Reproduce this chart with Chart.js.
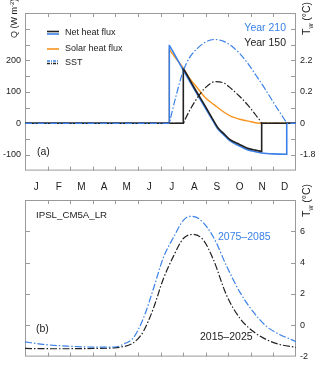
<!DOCTYPE html>
<html><head><meta charset="utf-8">
<script src="https://cdn.jsdelivr.net/npm/chart.js@4/dist/chart.umd.min.js"></script>
<style>
html,body{margin:0;padding:0;background:#fff;}
#wrap{position:relative;width:320px;height:366px;overflow:hidden;}
canvas{position:absolute;left:0;}
#ca{top:0;} #cb{top:180px;}
</style></head><body>
<div id="wrap"><canvas id="ca" width="320" height="180"></canvas><canvas id="cb" width="320" height="186"></canvas></div>
<script>
// ---------- data ----------
const months = ['J','F','M','A','M','J','J','A','S','O','N','D'];

// Panel (a): x = months since 1 Jan, values in W m-2 (left axis)
const netY210X = [0, 6.39, 6.39, 6.45, 7.0, 7.5, 8.0, 8.33, 8.56, 8.78, 9.08, 9.5, 9.82, 10.2, 10.48, 11.0, 11.59, 11.59, 12];
const netY210Q = [0, 0, 247, 240, 170, 108, 47, 7, -20, -35, -56, -72, -83, -90, -94, -97, -98, 0, 0];
const netY150X = [0, 7.01, 7.01, 7.07, 7.5, 8.0, 8.33, 8.56, 8.78, 9.08, 9.5, 9.82, 10.2, 10.48, 10.48, 12];
const netY150Q = [0, 0, 174, 167, 112, 52, 11, -16, -31, -52, -67, -78, -85, -89, 0, 0];
const solarX = [0, 6.39, 6.39, 6.45, 6.94, 7.3, 7.67, 8.0, 8.41, 8.8, 9.15, 9.5, 9.89, 10.2, 10.5, 12];
const solarQ = [0, 0, 234, 228, 182, 142, 109, 80, 57, 36, 21, 13, 7, 2, 0, 0];
const sstY210X = [0, 6.39, 6.45, 6.7, 7.0, 7.3, 7.67, 8.0, 8.41, 8.8, 9.15, 9.5, 9.89, 10.25, 10.63, 11.1, 11.55, 11.59, 12];
const sstY210Q = [0, 0, 18, 90, 165, 210, 240, 258, 266, 260, 245, 222, 188, 150, 109, 55, 5, 0, 0];
const sstY150X = [0, 7.01, 7.06, 7.3, 7.67, 7.97, 8.41, 8.8, 9.15, 9.5, 9.89, 10.2, 10.44, 10.48, 12];
const sstY150Q = [0, 0, 8, 42, 85, 112, 132, 128, 109, 86, 56, 28, 5, 0, 0];

const qTickValues = [-100, 0, 100, 200];
const qTickLabels = ['-100', '0', '100', '200'];
const twTickLabelsA = ['-1.8', '0', '0.2', '2.2'];

// Panel (b): Tw (°C)
const futureX = [0, 0.8, 1.85, 3.32, 4.06, 4.4, 4.8, 5.24, 5.68, 6.12, 6.57, 7.01, 7.31, 7.75, 8.34, 8.93, 9.52, 10.11, 10.70, 11.29, 11.96, 12];
const futureT = [-1.06, -1.22, -1.33, -1.4, -1.37, -1.18, -0.8, 0.44, 2.3, 4.3, 5.6, 6.7, 6.96, 6.75, 5.64, 3.77, 2.1, 0.85, -0.08, -0.6, -1.02, -1.05];
const presentX = [0, 1.5, 3.0, 3.9, 4.21, 4.80, 5.24, 5.68, 6.12, 6.57, 7.01, 7.45, 7.90, 8.34, 8.93, 9.52, 10.11, 10.70, 11.29, 11.96, 12];
const presentT = [-1.48, -1.5, -1.48, -1.45, -1.4, -1.12, -0.4, 1.06, 2.94, 4.4, 5.54, 5.8, 5.44, 4.2, 1.9, 0.44, -0.4, -0.92, -1.23, -1.4, -1.41];
const twTickValuesB = [-2, 0, 2, 4, 6];
const twTickLabelsB = ['-2', '0', '2', '4', '6'];

// ---------- styles ----------
const BLUE = '#3a80e8', ORANGE = '#f7941d', BLACK = '#222222', FRAME = '#9a9a9a', TXT = '#222';
const DASHDOT = [7, 2, 1.5, 2];
const FONT = '"Liberation Sans", Arial, sans-serif';

const pts = (xs, ys) => xs.map((x, i) => ({x, y: ys[i]}));
const lineDs = (label, xs, ys, color, width, dash, order) => ({
  label, data: pts(xs, ys), borderColor: color, borderWidth: width, borderDash: dash || [],
  showLine: true, pointRadius: 0, fill: false, cubicInterpolationMode: 'monotone', order
});

const frameTicks = {
  id: 'frameTicks',
  beforeDatasetsDraw(chart, args, opts) {
    const {ctx, chartArea: a, scales} = chart;
    ctx.save();
    ctx.strokeStyle = FRAME; ctx.lineWidth = 1;
    ctx.strokeRect(a.left + 0.5, a.top + 0.5, a.right - a.left - 1, a.bottom - a.top - 1);
    ctx.beginPath();
    const x = scales.x;
    for (let m = 1; m < 12; m++) {
      const px = Math.round(x.getPixelForValue(m)) + 0.5;
      ctx.moveTo(px, a.top); ctx.lineTo(px, a.top + 4);
      ctx.moveTo(px, a.bottom); ctx.lineTo(px, a.bottom - 4);
    }
    const y = scales[opts.yScale];
    y.ticks.forEach(t => {
      if (t.value <= y.min || t.value >= y.max) return;
      const py = Math.round(y.getPixelForValue(t.value)) + 0.5;
      ctx.moveTo(a.left, py); ctx.lineTo(a.left + 5, py);
      ctx.moveTo(a.right, py); ctx.lineTo(a.right - 5, py);
    });
    ctx.stroke();
    ctx.restore();
  }
};

function drawTw(ctx, x, yBottom, size) {
  ctx.save();
  ctx.translate(x, yBottom);
  ctx.rotate(-Math.PI / 2);
  ctx.fillStyle = TXT; ctx.textBaseline = 'alphabetic'; ctx.textAlign = 'left';
  ctx.font = size + 'px ' + FONT;
  ctx.fillText('T', 0, 0);
  let w = ctx.measureText('T').width;
  ctx.font = (size * 0.65) + 'px ' + FONT;
  ctx.fillText('w', w, size * 0.25);
  w += ctx.measureText('w').width;
  ctx.font = size + 'px ' + FONT;
  ctx.fillText(' (°C)', w, 0);
  ctx.restore();
}

const textA = {
  id: 'textA',
  afterDraw(chart) {
    const {ctx, chartArea: a} = chart;
    ctx.save();
    // left axis title
    ctx.save();
    ctx.translate(17, 38); ctx.rotate(-Math.PI / 2);
    ctx.fillStyle = TXT; ctx.textBaseline = 'alphabetic';
    ctx.font = '9px ' + FONT;
    ctx.fillText('Q (W m', 0, 0);
    let w = ctx.measureText('Q (W m').width;
    ctx.font = '6px ' + FONT;
    ctx.fillText('-2', w, -3.5);
    w += ctx.measureText('-2').width;
    ctx.font = '9px ' + FONT;
    ctx.fillText(')', w, 0);
    ctx.restore();
    drawTw(ctx, 310, 35, 10.5);
    // legend
    const lx0 = a.left + 22, lx1 = a.left + 34;
    const seg = (y, color, dash, width) => {
      ctx.beginPath(); ctx.setLineDash(dash || []); ctx.strokeStyle = color; ctx.lineWidth = width;
      ctx.moveTo(lx0, y); ctx.lineTo(lx1, y); ctx.stroke();
    };
    seg(31.5, BLACK, null, 1.6); seg(34, BLUE, null, 1.6);
    seg(49, ORANGE, null, 1.6);
    seg(61, BLUE, [3, 1, 1, 1], 1.3); seg(63.5, BLACK, [3, 1, 1, 1], 1.3);
    ctx.setLineDash([]);
    ctx.fillStyle = TXT; ctx.font = '9px ' + FONT; ctx.textBaseline = 'middle'; ctx.textAlign = 'left';
    ctx.fillText('Net heat flux', a.left + 40, 32.5);
    ctx.fillText('Solar heat flux', a.left + 40, 48.5);
    ctx.fillText('SST', a.left + 40, 62.5);
    // annotations
    ctx.font = '10.5px ' + FONT;
    ctx.fillText('(a)', a.left + 12, a.bottom - 18);
    ctx.textAlign = 'right';
    ctx.fillStyle = BLUE; ctx.fillText('Year 210', a.right - 10, a.top + 15);
    ctx.fillStyle = TXT; ctx.fillText('Year 150', a.right - 10, a.top + 30);
    ctx.restore();
  }
};

const textB = {
  id: 'textB',
  afterDraw(chart) {
    const {ctx, chartArea: a, scales} = chart;
    ctx.save();
    ctx.fillStyle = TXT; ctx.font = '10px ' + FONT; ctx.textAlign = 'center'; ctx.textBaseline = 'middle';
    months.forEach((m, i) => ctx.fillText(m, scales.x.getPixelForValue(i + 0.5), a.top - 13));
    drawTw(ctx, 310, 37, 10.5);
    ctx.textAlign = 'left';
    ctx.font = '9.7px ' + FONT;
    ctx.fillText('IPSL_CM5A_LR', a.left + 11, a.top + 15);
    ctx.font = '10.5px ' + FONT;
    ctx.fillText('(b)', a.left + 11, a.bottom - 27);
    ctx.fillStyle = BLUE; ctx.fillText('2075–2085', a.left + 193, a.top + 37);
    ctx.fillStyle = TXT; ctx.fillText('2015–2025', a.left + 175, a.bottom - 19);
    ctx.restore();
  }
};

const labelFrom = (vals, labs) => v => { const i = vals.indexOf(v); return i >= 0 ? labs[i] : ''; };
const tickFont = {size: 9, family: FONT};
const noGrid = { display: false, drawTicks: false, tickLength: 0 };

// ---------- chart (a) ----------
new Chart(document.getElementById('ca'), {
  type: 'scatter',
  data: { datasets: [
    lineDs('SST Year 210', sstY210X, sstY210Q, BLUE, 1.2, DASHDOT, 1),
    lineDs('SST Year 150', sstY150X, sstY150Q, BLACK, 1.2, DASHDOT, 2),
    lineDs('Net heat flux Year 150', netY150X, netY150Q, BLACK, 1.6, null, 3),
    lineDs('Net heat flux Year 210', netY210X, netY210Q, BLUE, 1.6, null, 4),
    lineDs('Solar heat flux', solarX, solarQ, ORANGE, 1.4, null, 5)
  ]},
  options: {
    responsive: false, animation: false, devicePixelRatio: 1,
    layout: { padding: { top: 13, bottom: 7, left: 0, right: 0 } },
    plugins: { legend: { display: false }, tooltip: { enabled: false }, frameTicks: { yScale: 'y' } },
    scales: {
      x: { type: 'linear', min: 0, max: 12, display: false },
      y: { type: 'linear', position: 'left', min: -150, max: 350,
        grid: noGrid, border: { display: false },
        ticks: { stepSize: 50, autoSkip: false, padding: 4, color: TXT, font: tickFont, callback: labelFrom(qTickValues, qTickLabels) },
        afterFit: s => { s.width = 25; } },
      y2: { type: 'linear', position: 'right', min: -150, max: 350,
        grid: noGrid, border: { display: false },
        ticks: { stepSize: 50, autoSkip: false, padding: 4, color: TXT, font: tickFont, callback: labelFrom(qTickValues, twTickLabelsA) },
        afterFit: s => { s.width = 24; } }
    }
  },
  plugins: [frameTicks, textA]
});

// ---------- chart (b) ----------
new Chart(document.getElementById('cb'), {
  type: 'scatter',
  data: { datasets: [
    lineDs('2075–2085', futureX, futureT, BLUE, 1.2, DASHDOT, 1),
    lineDs('2015–2025', presentX, presentT, BLACK, 1.2, DASHDOT, 2)
  ]},
  options: {
    responsive: false, animation: false, devicePixelRatio: 1,
    layout: { padding: { top: 20, bottom: 7, left: 25, right: 0 } },
    plugins: { legend: { display: false }, tooltip: { enabled: false }, frameTicks: { yScale: 'y' } },
    scales: {
      x: { type: 'linear', min: 0, max: 12, display: false },
      y: { type: 'linear', position: 'right', min: -2, max: 8,
        grid: noGrid, border: { display: false },
        ticks: { stepSize: 2, autoSkip: false, padding: 4, color: TXT, font: tickFont, callback: labelFrom(twTickValuesB, twTickLabelsB) },
        afterFit: s => { s.width = 24; } }
    }
  },
  plugins: [frameTicks, textB]
});
</script>
</body></html>
